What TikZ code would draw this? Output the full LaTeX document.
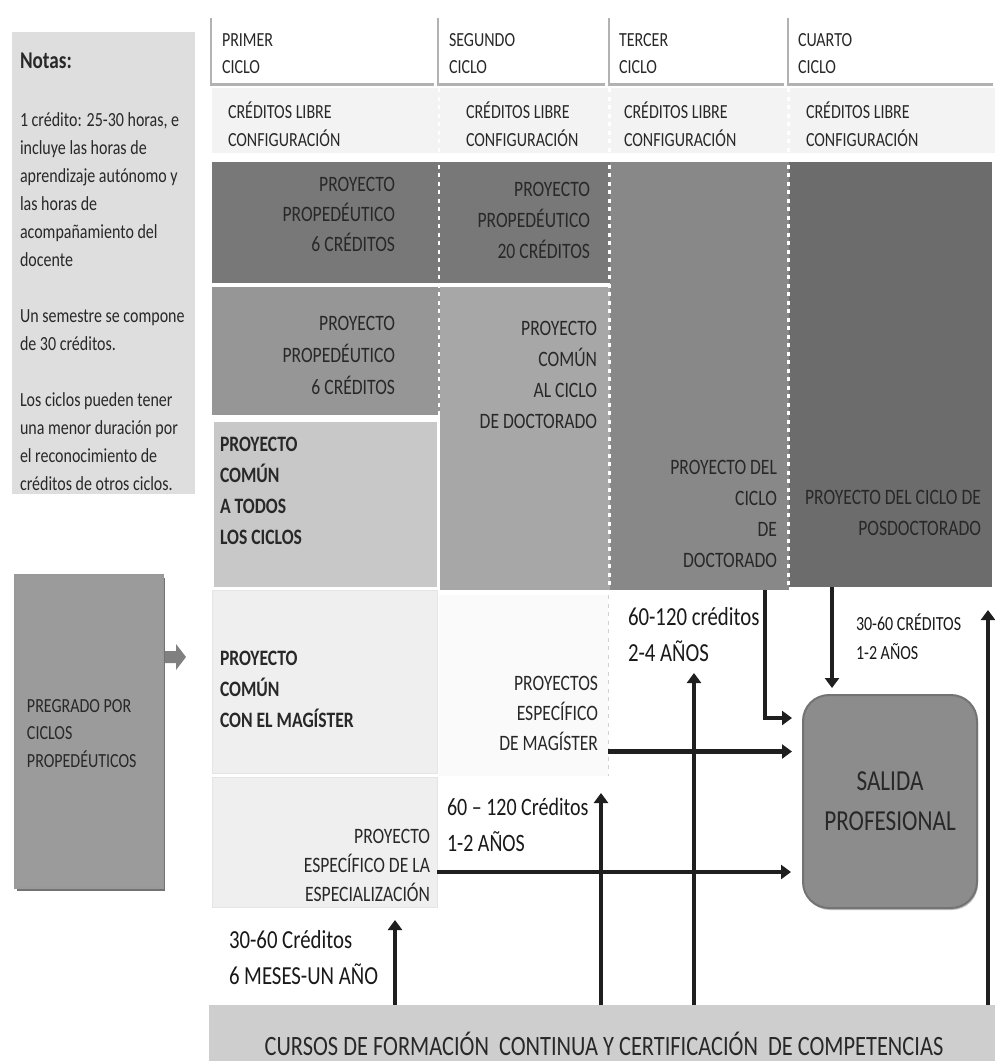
\documentclass[tikz,border=0pt]{standalone}
\usepackage{fontspec}
\setmainfont{Carlito}[FakeStretch=0.8]
\usepackage{tikz}
\usetikzlibrary{arrows.meta,positioning,shadows}
\definecolor{ink}{RGB}{40,40,40}
\definecolor{notefill}{RGB}{222,222,222}
\definecolor{credfill}{RGB}{243,243,243}
\definecolor{propA}{RGB}{120,120,120}
\definecolor{propB}{RGB}{150,150,150}
\definecolor{comunD}{RGB}{167,167,167}
\definecolor{todosfill}{RGB}{200,200,200}
\definecolor{doctfill}{RGB}{136,136,136}
\definecolor{posdfill}{RGB}{108,108,108}
\definecolor{pale}{RGB}{239,239,239}
\definecolor{paler}{RGB}{250,250,250}
\definecolor{pregfill}{RGB}{155,155,155}
\definecolor{salfill}{RGB}{140,140,140}
\definecolor{barfill}{RGB}{206,206,206}

\begin{document}
\begin{tikzpicture}[x=1pt,y=-1pt,
  every node/.style={inner sep=0pt,outer sep=0pt,text=ink},
  sz/.style 2 args={minimum width=#1pt,minimum height=#2pt},
  cell/.style={rectangle,anchor=north west},
  head/.style={cell,fill=white,drop shadow={shadow xshift=-2pt,shadow yshift=-2.5pt,fill=black!30,opacity=1}},
  cred/.style={cell,fill=credfill},
  htxt/.style={anchor=base west,align=left,font=\fontsize{20}{27}\selectfont},
  ctxt/.style={anchor=base west,align=left,font=\fontsize{20}{28}\selectfont},
  rtxt/.style={anchor=base east,align=right,font=\fontsize{22}{31}\selectfont},
  ltxt/.style={anchor=base west,align=left,font=\bfseries\fontsize{22}{31}\selectfont},
  lbl/.style={anchor=base west,align=left,font=\fontsize{26}{36}\selectfont,text=black!90},
  sep/.style={white,line width=2.5pt,dash pattern=on 4pt off 4.5pt},
  arr/.style={-{Triangle[length=10pt,width=14pt]},line width=4.5pt,black!88}
]
\useasboundingbox (0,0) rectangle (995,1061);
\fill[white] (0,0) rectangle (995,1061);

% notas (text nodes sit on the baseline of their last line)
\node[cell,fill=notefill,sz={183}{462}] (notas) at (12,32) {};
\node[anchor=base west,font=\bfseries\fontsize{24}{28}\selectfont] (notastit) at (20,68) {Notas:};
\node[anchor=base west,align=left,font=\fontsize{20}{28}\selectfont] (notastxt) at (20,490)
  {1 crédito: 25-30 horas, e\\incluye las horas de\\aprendizaje autónomo y\\las horas de\\acompañamiento del\\docente\\[28pt]Un semestre se compone\\de 30 créditos.\\[28pt]Los ciclos pueden tener\\una menor duración por\\el reconocimiento de\\créditos de otros ciclos.};

% ciclos
\node[head,sz={224}{68}] (c1) at (212,15) {};
\node[head,sz={168}{68}] (c2) at (439,15) {};
\node[head,sz={176}{68}] (c3) at (610,15) {};
\node[head,sz={206}{68}] (c4) at (789,15) {};
\node[htxt] (c1t) at (222,73) {PRIMER\\CICLO};
\node[htxt] (c2t) at (449,73) {SEGUNDO\\CICLO};
\node[htxt] (c3t) at (619,73) {TERCER\\CICLO};
\node[htxt] (c4t) at (798,73) {CUARTO\\CICLO};

\node[cred,sz={226}{65}] (cr1) at (212,88) {};
\node[cred,sz={169}{65}] (cr2) at (438,88) {};
\node[cred,sz={179}{65}] (cr3) at (607,88) {};
\node[cred,sz={209}{65}] (cr4) at (786,88) {};
\node[ctxt] (cr1t) at (228,146) {CRÉDITOS LIBRE\\CONFIGURACIÓN};
\node[ctxt] (cr2t) at (466,146) {CRÉDITOS LIBRE\\CONFIGURACIÓN};
\node[ctxt] (cr3t) at (624,146) {CRÉDITOS LIBRE\\CONFIGURACIÓN};
\node[ctxt] (cr4t) at (806,146) {CRÉDITOS LIBRE\\CONFIGURACIÓN};

% proyectos
\node[cell,fill=propA,sz={398}{121}] (prop1) at (212,162) {};
\node[cell,fill=propB,sz={228}{128}] (prop2) at (212,287) {};
\node[cell,fill=comunD,sz={170}{303}] (comun) at (440,287) {};
\node[cell,fill=todosfill,draw=white,line width=3pt,sz={226}{168}] (todos) at (212,420) {};
\node[cell,fill=doctfill,sz={179}{428}] (doct) at (610,162) {};
\node[cell,fill=posdfill,sz={203}{425}] (posd) at (789,162) {};
\node[cell,fill=pale,draw=black!10,sz={225}{183}] (mag1) at (212,590) {};
\node[cell,fill=paler,sz={169}{181}] (mag2) at (439,595) {};
\node[cell,fill=pale,draw=black!10,sz={225}{130}] (espec) at (212,777) {};

\draw[sep] (439,88) -- (439,418);
\draw[sep] (609.5,88) -- (609.5,590);
\draw[sep] (788.5,88) -- (788.5,590);
\draw[sep,black!18,line width=1.5pt] (608.5,595) -- (608.5,776);

\node[rtxt,font=\fontsize{22}{30}\selectfont] (prop1t) at (395,251) {PROYECTO\\PROPEDÉUTICO\\6 CRÉDITOS};
\node[rtxt] (prop1u) at (590,258) {PROYECTO\\PROPEDÉUTICO\\20 CRÉDITOS};
\node[rtxt,font=\fontsize{22}{32}\selectfont] (prop2t) at (395,394) {PROYECTO\\PROPEDÉUTICO\\6 CRÉDITOS};
\node[rtxt] (comunt) at (597,428) {PROYECTO\\COMÚN\\AL CICLO\\DE DOCTORADO};
\node[ltxt] (todost) at (220,544) {PROYECTO\\COMÚN\\A TODOS\\LOS CICLOS};
\node[rtxt] (doctt) at (777,567) {PROYECTO DEL\\CICLO\\DE\\DOCTORADO};
\node[rtxt] (posdt) at (981,535) {PROYECTO DEL CICLO DE\\POSDOCTORADO};
\node[ltxt] (mag1t) at (220,727) {PROYECTO\\COMÚN\\CON EL MAGÍSTER};
\node[rtxt,font=\fontsize{22}{30}\selectfont] (mag2t) at (598,750) {PROYECTOS\\ESPECÍFICO\\DE MAGÍSTER};
\node[rtxt,font=\fontsize{22}{29}\selectfont] (espect) at (430,901) {PROYECTO\\ESPECÍFICO DE LA\\ESPECIALIZACIÓN};

% pregrado y salida
\node[cell,fill=pregfill,draw=black!40,line width=2pt,sz={148}{313},
  drop shadow={shadow xshift=2pt,shadow yshift=-3pt,fill=black!55,opacity=1}] (pregrado) at (15,575) {};
\node[anchor=base west,align=left,font=\fontsize{20}{27.5}\selectfont] (pregradot) at (27,767) {PREGRADO POR\\CICLOS\\PROPEDÉUTICOS};
\fill[black!50] (165,651) -- (176,651) -- (176,644) -- (186,657) -- (176,670) -- (176,663) -- (165,663) -- cycle;

\node[cell,rounded corners=26pt,fill=salfill,draw=black!55,line width=2pt,sz={174}{213},align=center,
  font=\fontsize{29}{40}\selectfont,drop shadow={shadow xshift=1pt,shadow yshift=-2pt,fill=black!25,opacity=1}] (salida) at (803,695) {SALIDA\\PROFESIONAL};

% cursos
\node[cell,fill=barfill,sz={786}{56}] (cursos) at (209,1005) {};
\node[anchor=base,font=\fontsize{28}{32}\selectfont] (cursost) at (604,1055) {CURSOS DE FORMACIÓN\ \ CONTINUA Y CERTIFICACIÓN\ \ DE COMPETENCIAS};

% creditos y duracion
\node[lbl] (lblA) at (229,984) {30-60 Créditos\\6 MESES-UN AÑO};
\node[lbl,font=\fontsize{25}{36}\selectfont] (lblB) at (447,851) {60 – 120 Créditos\\1-2 AÑOS};
\node[lbl] (lblC) at (628,661) {60-120 créditos\\2-4 AÑOS};
\node[lbl,font=\fontsize{20}{29}\selectfont] (lblD) at (856,659) {30-60 CRÉDITOS\\1-2 AÑOS};

\coordinate (tipA) at (395,920);
\coordinate (tipB) at (601,793);
\coordinate (tipC) at (694,673);
\coordinate (tipD) at (988,610);
\coordinate (tipP) at (832,688);
\coordinate (kneeC) at (765,718);
\draw[arr] (cursos.north -| tipA) -- (tipA);
\draw[arr] (cursos.north -| tipB) -- (tipB);
\draw[arr] (cursos.north -| tipC) -- (tipC);
\draw[arr] (cursos.north -| tipD) -- (tipD);
\draw[arr,shorten >=12pt] ([yshift=-30pt]espec.east) -- ([yshift=-30pt]espec.east -| salida.west);
\draw[arr,shorten >=11pt] ([yshift=-66pt]mag2.east) -- ([yshift=-66pt]mag2.east -| salida.west);
\draw[arr,shorten >=11pt] (doct.south -| kneeC) |- (kneeC -| salida.west);
\draw[arr] (posd.south -| tipP) -- (tipP);
\end{tikzpicture}
\end{document}
